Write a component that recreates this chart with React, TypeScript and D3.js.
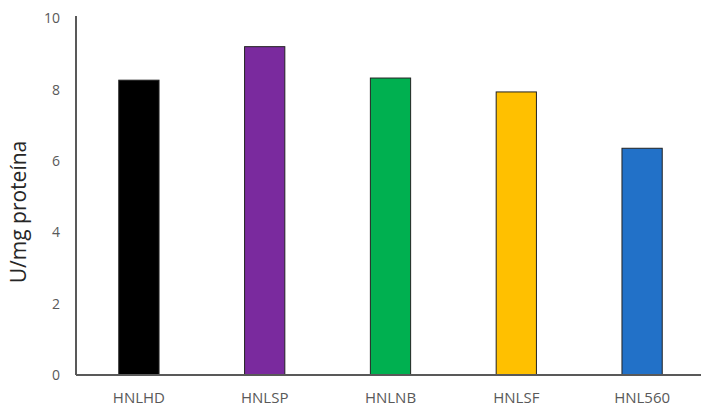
import React from "react";
import * as d3 from "d3";

const categories = ["HNLHD", "HNLSP", "HNLNB", "HNLSF", "HNL560"];
const values = [8.27, 9.21, 8.33, 7.94, 6.36];
const colors = ["#000000", "#7a2a9e", "#00b050", "#ffc000", "#2271c8"];
const yTicks = [0, 2, 4, 6, 8, 10];
const yTitle = "U/mg proteína";

export default function App() {
  const W = 701, H = 408;
  const x0 = 76, x1 = 705, yTop = 18.5, yBase = 375;
  const x = d3.scaleBand<string>().domain(categories).range([x0, x1]).paddingInner(0.68).paddingOuter(0.34);
  const y = d3.scaleLinear().domain([0, 10]).range([yBase, yTop]);
  const font = "'Open Sans', 'Liberation Sans', sans-serif";
  return (
    <svg width={W} height={H} style={{ position: "absolute", left: 0, top: 0, background: "#fff" }}>
      <rect width={W} height={H} fill="#fff" />
      {categories.map((c, i) => (
        <rect key={c} x={x(c)} y={y(values[i])} width={x.bandwidth()} height={yBase - y(values[i])}
          fill={colors[i]} stroke="#222" strokeWidth={1} />
      ))}
      <line x1={x0} x2={x0} y1={16} y2={yBase} stroke="#222" strokeWidth={1.5} />
      <line x1={x0} x2={W} y1={yBase} y2={yBase} stroke="#595959" strokeWidth={2} />
      {yTicks.map(t => (
        <text key={t} x={60} y={y(t)} dy="0.35em" textAnchor="end" fontFamily={font} fontSize={14} fill="#595959">{t}</text>
      ))}
      {categories.map(c => (
        <text key={c} x={(x(c) as number) + x.bandwidth() / 2} y={403} textAnchor="middle" fontFamily={font} fontSize={15} fill="#595959">{c}</text>
      ))}
      <text transform={`translate(26,212) rotate(-90)`} textAnchor="middle" fontFamily={font} fontSize={21} fill="#262626">{yTitle}</text>
    </svg>
  );
}
